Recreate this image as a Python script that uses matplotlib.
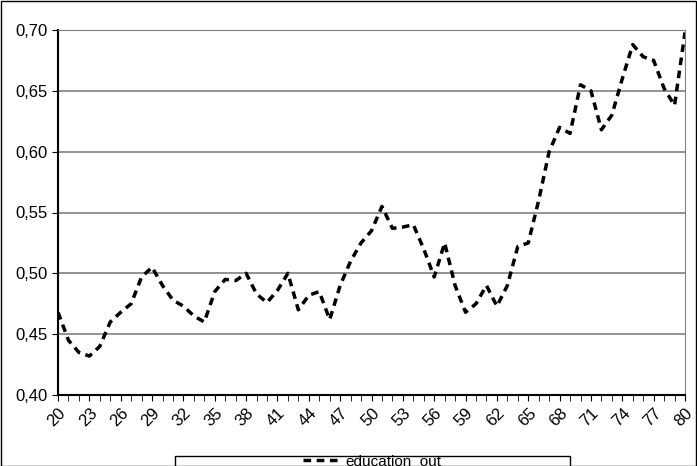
import matplotlib.pyplot as plt
from matplotlib.patches import Rectangle
from matplotlib.lines import Line2D

ages = list(range(20, 81))
education_out = [0.468, 0.445, 0.435, 0.432, 0.440, 0.460, 0.468, 0.475, 0.497, 0.505,
                 0.490, 0.478, 0.473, 0.465, 0.460, 0.485, 0.495, 0.494, 0.500, 0.483,
                 0.476, 0.486, 0.500, 0.470, 0.482, 0.485, 0.462, 0.490, 0.510, 0.525,
                 0.535, 0.555, 0.537, 0.538, 0.540, 0.520, 0.497, 0.525, 0.490, 0.468,
                 0.475, 0.490, 0.473, 0.490, 0.522, 0.525, 0.560, 0.600, 0.620, 0.615,
                 0.655, 0.650, 0.618, 0.630, 0.660, 0.688, 0.678, 0.675, 0.652, 0.638,
                 0.698]
yticks = [0.40, 0.45, 0.50, 0.55, 0.60, 0.65, 0.70]

plt.rcParams['font.family'] = ['Liberation Sans Narrow', 'Liberation Sans', 'DejaVu Sans']
fig = plt.figure(figsize=(6.97, 4.66), dpi=100)
fig.patches.append(Rectangle((0.001, 0.001), 0.997, 0.997, transform=fig.transFigure,
                             fill=False, edgecolor='black', linewidth=1))
ax = fig.add_axes([58 / 697, 71 / 466, 627 / 697, 365 / 466])
ax.plot(ages, education_out, color='black', linestyle=(0, (2.2, 1.6)), linewidth=2.5)
ax.set_xlim(20, 80)
ax.set_ylim(0.40, 0.70)
ax.set_yticks(yticks)
ax.set_yticklabels([f'{v:.2f}'.replace('.', ',') for v in yticks], fontsize=12)
ax.set_xticks(ages, minor=True)
ax.set_xticks(ages[::3])
ax.set_xticklabels([str(a) for a in ages[::3]], rotation=45, fontsize=12,
                   ha='right', rotation_mode='anchor')
ax.tick_params(axis='x', which='both', length=4, direction='out')
ax.tick_params(axis='y', length=4)
for v in yticks[1:]:
    ax.axhline(v, color='#808080', linewidth=1.2, zorder=0)
for s in ['top', 'right']:
    ax.spines[s].set_color('#808080')
ax.spines['left'].set_linewidth(1.5)
ax.spines['bottom'].set_linewidth(1.5)

fig.patches.append(Rectangle((175 / 697, -0.05), 395 / 697, (466 - 456) / 466 + 0.05,
                             transform=fig.transFigure, fill=False, edgecolor='black', linewidth=1))
fig.legend([Line2D([0], [0], color='black', linestyle=(0, (2.2, 1.6)), linewidth=2.5)],
           ['education_out'], loc='center', bbox_to_anchor=(372 / 697, 5 / 466),
           frameon=False, fontsize=11, handlelength=2.5, handletextpad=0.3)
fig.savefig('out.png', dpi=100)
